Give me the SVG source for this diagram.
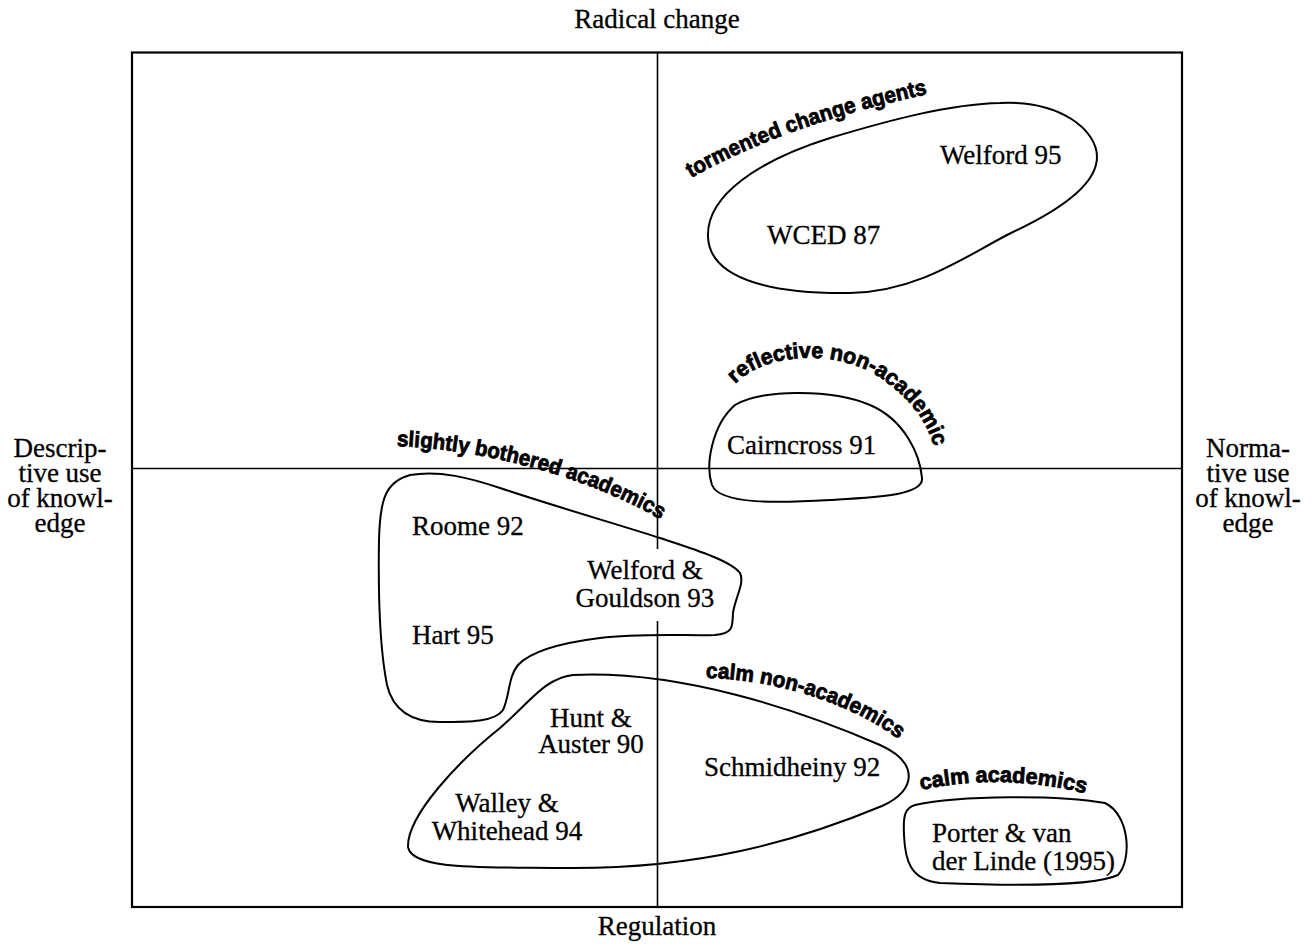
<svg xmlns="http://www.w3.org/2000/svg" width="1316" height="946" viewBox="0 0 1316 946">
<style>
.t{font-family:"Liberation Serif","Times New Roman",serif;font-size:27px;fill:#000;stroke:#000;stroke-width:0.3}
.c{text-anchor:middle}
.lab{font-family:"Liberation Sans",Arial,sans-serif;font-weight:bold;font-size:22px;fill:#000;stroke:#000;stroke-width:0.8}
.blob{fill:none;stroke:#000;stroke-width:2}
.ax{stroke:#000;stroke-width:1.6;fill:none}
</style>
<defs>
<path id="p1" d="M 691,178 Q 790,122 938,92"/>
<path id="p2" d="M 735,384 C 770,348 850,350 890,385 C 915,405 930,425 938,462"/>
<path id="p3" d="M 397,446 C 480,449 590,476 668,524"/>
<path id="p4" d="M 706,678 C 770,679 850,701 902,742"/>
<path id="p5" d="M 921,790 Q 1005,772 1091,795"/>
</defs>
<rect width="1316" height="946" fill="#fff"/>
<g id="frame">
<rect x="132" y="52.5" width="1050" height="854.5" fill="none" stroke="#000" stroke-width="2.2"/>
<line class="ax" x1="657.5" y1="52.5" x2="657.5" y2="907"/>
<line class="ax" x1="132" y1="468.5" x2="1182" y2="468.5"/>
<rect x="572" y="549" width="146" height="72" fill="#fff"/>
</g>
<g id="axis-labels">
<text class="t c" x="657" y="28">Radical change</text>
<text class="t c" x="657" y="935">Regulation</text>
<text class="t c" x="60"><tspan x="60" y="457">Descrip-</tspan><tspan x="60" y="482">tive use</tspan><tspan x="60" y="507">of knowl-</tspan><tspan x="60" y="532">edge</tspan></text>
<text class="t c" x="1248"><tspan x="1248" y="457">Norma-</tspan><tspan x="1248" y="482">tive use</tspan><tspan x="1248" y="507">of knowl-</tspan><tspan x="1248" y="532">edge</tspan></text>
</g>
<g id="tormented">
<path class="blob" d="M 1000,103 C 1060,100 1097,130 1097,157 C 1097,185 1060,210 1013,232 C 970,253 920,292 850,293 C 780,294 710,282 708,237 C 706,195 760,160 830,138 C 890,120 950,104 1000,103 Z"/>
<text class="lab"><textPath href="#p1" textLength="252" lengthAdjust="spacingAndGlyphs">tormented change agents</textPath></text>
<text class="t" x="940" y="164">Welford 95</text>
<text class="t" x="767" y="244">WCED 87</text>
</g>
<g id="reflective">
<path class="blob" d="M 735,405 C 760,390 830,388 870,405 C 905,420 920,455 922,478 C 924,495 880,497 830,500 C 780,503 720,505 712,485 C 705,465 712,425 735,405 Z" fill="#fff"/>
<text class="lab"><textPath href="#p2" textLength="245" lengthAdjust="spacingAndGlyphs">reflective non-academic</textPath></text>
<text class="t" x="727" y="454">Cairncross 91</text>
</g>
<g id="slightly">
<path class="blob" d="M 410,475 C 440,470 470,478 500,488 C 560,508 620,525 660,538 C 690,548 730,560 740,573 C 745,583 735,598 733,613 C 732,625 735,633 715,635 C 690,636 640,633 600,638 C 560,643 530,652 518,665 C 508,677 510,695 503,710 C 495,722 470,722 440,722 C 410,722 393,710 387,685 C 380,650 378,600 379,540 C 380,500 385,482 410,475 Z"/>
<text class="lab"><textPath href="#p3" textLength="276" lengthAdjust="spacingAndGlyphs">slightly bothered academics</textPath></text>
<text class="t" x="412" y="535">Roome 92</text>
<text class="t c" x="645"><tspan x="645" y="579">Welford &amp;</tspan><tspan x="645" y="607">Gouldson 93</tspan></text>
<text class="t" x="412" y="644">Hart 95</text>
</g>
<g id="calm-non">
<path class="blob" d="M 573,675 C 680,670 800,710 880,745 C 918,762 918,790 882,806 C 800,840 700,870 560,868 C 480,867 412,870 408,847 C 407,815 460,760 500,728 C 530,702 545,678 573,675 Z"/>
<text class="lab"><textPath href="#p4" textLength="205" lengthAdjust="spacingAndGlyphs">calm non-academics</textPath></text>
<text class="t c" x="591"><tspan x="591" y="727">Hunt &amp;</tspan><tspan x="591" y="753">Auster 90</tspan></text>
<text class="t" x="704" y="776">Schmidheiny 92</text>
<text class="t c" x="507"><tspan x="507" y="812">Walley &amp;</tspan><tspan x="507" y="840">Whitehead 94</tspan></text>
</g>
<g id="calm-academics">
<path class="blob" d="M 915,805 C 960,795 1060,795 1105,803 C 1130,815 1132,860 1118,875 C 1090,888 990,885 940,883 C 910,880 905,860 904,835 C 903,815 905,808 915,805 Z"/>
<text class="lab"><textPath href="#p5" textLength="166" lengthAdjust="spacingAndGlyphs">calm academics</textPath></text>
<text class="t"><tspan x="932" y="842">Porter &amp; van</tspan><tspan x="932" y="870">der Linde (1995)</tspan></text>
</g>
</svg>
